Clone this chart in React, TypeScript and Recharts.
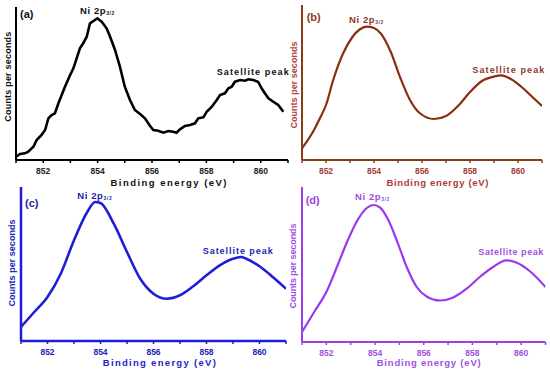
import React from 'react';
import { LineChart, Line, XAxis, YAxis } from 'recharts';

// ---------- data (binding energy in eV, counts in arbitrary units) ----------
const energyA = [851.0, 851.15, 851.33, 851.45, 851.64, 851.76, 851.94, 852.07, 852.19, 852.31, 852.43, 852.56, 852.68, 852.8, 852.99, 853.11, 853.23, 853.35, 853.47, 853.6, 853.72, 853.9, 853.99, 854.15, 854.33, 854.46, 854.64, 854.82, 855.0, 855.19, 855.37, 855.56, 855.74, 855.93, 856.05, 856.23, 856.42, 856.6, 856.78, 856.9, 857.03, 857.21, 857.4, 857.58, 857.7, 857.89, 858.01, 858.2, 858.38, 858.5, 858.68, 858.81, 858.93, 859.05, 859.24, 859.42, 859.54, 859.72, 859.9, 860.03, 860.15, 860.28, 860.46, 860.64, 860.83];
const countsA = [3.3, 6, 6.7, 8.3, 13.3, 20, 25, 30, 41.7, 45, 46.7, 56.7, 65, 73.3, 85, 91.7, 101.7, 111.7, 116.7, 123.3, 136.7, 140, 141.7, 138.3, 131.7, 123.3, 110, 93.3, 73.3, 60, 50, 46, 41.7, 34, 30, 29.3, 27.3, 29, 28.3, 27.3, 30.7, 34, 35, 36.7, 41.7, 42.7, 48.3, 53.3, 60, 65, 66.7, 71.7, 73.3, 78.3, 80, 79.3, 80.7, 80, 78.3, 71.7, 66.7, 61.7, 58.3, 55, 48.3];

const energyB = [851.0, 851.5, 851.75, 852.0, 852.3, 852.7, 853.1, 853.4, 853.7, 854.0, 854.3, 854.7, 855.1, 855.5, 855.9, 856.5, 857.0, 857.5, 858.0, 858.5, 859.0, 859.3, 859.7, 860.2, 860.6, 861.0];
const countsB = [11.7, 30, 42, 55, 80, 106, 123, 130.5, 133.3, 132, 126, 108, 82, 60, 47, 41, 44, 54, 68, 79, 83.5, 84.7, 81, 72, 63, 54];

const energyC = [851.0, 851.5, 852.0, 852.5, 853.0, 853.5, 853.8, 854.0, 854.5, 855.0, 855.5, 856.0, 856.5, 857.0, 857.5, 858.0, 858.5, 859.0, 859.3, 859.5, 860.0, 860.5, 861.0];
const countsC = [14, 29, 44, 67.3, 100.7, 129, 139, 138, 117.3, 89, 62.3, 47.3, 42.3, 45.7, 54.7, 65.7, 75.7, 82.3, 84, 82.3, 74.7, 64, 52.3];

const energyD = [851.0, 851.5, 852.0, 852.45, 852.85, 853.26, 853.66, 853.94, 854.21, 854.55, 854.89, 855.3, 855.71, 856.12, 856.67, 857.21, 857.76, 858.3, 858.85, 859.39, 859.8, 860.35, 861.0];
const countsD = [10, 30, 50, 76, 100, 121, 134, 137, 134.3, 121.7, 101.7, 75, 55, 45.5, 41.5, 44.5, 53.3, 65, 75, 81.7, 79.5, 71, 55];

const xTicks = [851, 852, 853, 854, 855, 856, 857, 858, 859, 860, 861];
const xTitle = 'Binding energy (eV)';
const yTitle = 'Counts per seconds';
const mainPeak = 'Ni 2p';
const mainPeakSub = '3/2';
const satPeak = 'Satellite peak';
const panelTags = ['(a)', '(b)', '(c)', '(d)'];

const FONT = '"Liberation Sans", Arial, Helvetica, sans-serif';

const build = (e: number[], c: number[]) => e.map((v, i) => ({ e: v, c: c[i] }));

type PanelProps = {
  data: { e: number; c: number }[];
  left: number;
  top: number;
  w: number;
  h: number;
  lineColor: string;
  axisColor: string;
  tickColor: string;
  lw: number;
  aw: number;
  curve: 'linear' | 'natural' | 'monotone';
};

function Panel(p: PanelProps) {
  return (
    <div style={{ position: 'absolute', left: p.left - 10, top: p.top - 5 }}>
      <LineChart
        width={p.w + 20}
        height={p.h + 25}
        data={p.data}
        margin={{ top: 5, right: 10, left: 9, bottom: 5 }}
      >
        <XAxis
          dataKey="e"
          type="number"
          domain={[851, 861]}
          ticks={xTicks}
          interval={0}
          allowDataOverflow
          height={15}
          tickSize={3}
          tickMargin={4.5}
          tickFormatter={(v: number) => (v % 2 === 0 ? String(v) : '')}
          tick={{ fill: p.tickColor, fontSize: 8.5, fontWeight: 'bold', fontFamily: FONT }}
          axisLine={{ stroke: p.axisColor, strokeWidth: p.aw }}
          tickLine={{ stroke: p.axisColor, strokeWidth: 1.5 }}
        />
        <YAxis
          type="number"
          domain={[0, p.h]}
          width={1}
          tick={false}
          tickLine={false}
          axisLine={{ stroke: p.axisColor, strokeWidth: p.aw }}
          allowDataOverflow
        />
        <Line
          dataKey="c"
          type={p.curve}
          stroke={p.lineColor}
          strokeWidth={p.lw}
          dot={false}
          isAnimationActive={false}
        />
      </LineChart>
    </div>
  );
}

type TextSet = {
  color: string;
  tagColor: string;
  xColor: string;
  yColor: string;
  tag: [number, number];
  ni: [number, number];
  sat: [number, number, number];
  xl: [number, number, number];
  yl: [number, number, number];
};

const textSets: TextSet[] = [
  { color: '#111', tagColor: '#111', xColor: '#111', yColor: '#111', tag: [20, 13.5], ni: [80, 10], sat: [216.7, 71.7, 72], xl: [168.5, 182, 116], yl: [7.5, 76.7, 90] },
  { color: '#8B3A2A', tagColor: '#8B3A2A', xColor: '#B03A3A', yColor: '#B04040', tag: [306.7, 17.3], ni: [349, 19], sat: [472.3, 70, 72], xl: [437.5, 182, 102], yl: [294, 85, 87] },
  { color: '#2424B8', tagColor: '#1E1E9C', xColor: '#2424C8', yColor: '#2424B8', tag: [25, 202.7], ni: [77.3, 195], sat: [202.7, 250.7, 70], xl: [159.3, 362.5, 113], yl: [11.7, 263, 87] },
  { color: '#A050E0', tagColor: '#9A48D8', xColor: '#A050E8', yColor: '#A050E0', tag: [305.7, 200], ni: [355, 196.7], sat: [478.3, 251.7, 65], xl: [428.7, 362, 104], yl: [293.3, 266, 85] },
];

function Overlay() {
  return (
    <svg
      width={550}
      height={369}
      style={{ position: 'absolute', left: 0, top: 0, pointerEvents: 'none' }}
      fontFamily={FONT}
      fontWeight="bold"
    >
      <defs>
        <clipPath id="clipA">
          <rect x={0} y={0} width={289} height={190} />
        </clipPath>
      </defs>
      {textSets.map((t, i) => (
        <g key={i} clipPath={i === 0 ? 'url(#clipA)' : undefined}>
          <text x={t.tag[0]} y={t.tag[1]} fill={t.tagColor} fontSize={11} dominantBaseline="central">
            {panelTags[i]}
          </text>
          <text x={t.ni[0]} y={t.ni[1]} fill={t.color} fontSize={9.5} letterSpacing={0.6} dominantBaseline="central">
            {mainPeak}
            <tspan fontSize={5} dy={2.5}>{mainPeakSub}</tspan>
          </text>
          <text
            x={t.sat[0]}
            y={t.sat[1]}
            fill={t.color}
            fontSize={9}
            textLength={t.sat[2]}
            lengthAdjust="spacing"
            dominantBaseline="central"
          >
            {satPeak}
          </text>
          <text
            x={t.xl[0] - t.xl[2] / 2}
            y={t.xl[1]}
            fill={t.xColor}
            fontSize={9.5}
            textLength={t.xl[2]}
            lengthAdjust="spacing"
            dominantBaseline="central"
          >
            {xTitle}
          </text>
          <text
            transform={`translate(${t.yl[0]},${t.yl[1]}) rotate(-90)`}
            x={-t.yl[2] / 2}
            y={0}
            fill={t.yColor}
            fontSize={9}
            textLength={t.yl[2]}
            lengthAdjust="spacing"
            dominantBaseline="central"
          >
            {yTitle}
          </text>
        </g>
      ))}
    </svg>
  );
}

export default function App() {
  return (
    <div style={{ position: 'absolute', left: 0, top: 0, width: 550, height: 369, background: '#fff', overflow: 'hidden' }}>
      <Panel data={build(energyA, countsA)} left={16} top={7} w={272} h={153} lineColor="#000" axisColor="#000" tickColor="#222" lw={2.6} aw={2} curve="linear" />
      <Panel data={build(energyB, countsB)} left={302} top={5} w={240} h={155} lineColor="#8B2D10" axisColor="#8B3A1A" tickColor="#A0403A" lw={2.2} aw={2} curve="monotone" />
      <Panel data={build(energyC, countsC)} left={20.8} top={186.7} w={265} h={154} lineColor="#1E1ED8" axisColor="#1E1ED8" tickColor="#2424B8" lw={2.6} aw={2.5} curve="monotone" />
      <Panel data={build(energyD, countsD)} left={301.7} top={186.7} w={243.5} h={155} lineColor="#9B38EE" axisColor="#9B40E8" tickColor="#A050E0" lw={2.2} aw={2} curve="monotone" />
      <Overlay />
    </div>
  );
}
